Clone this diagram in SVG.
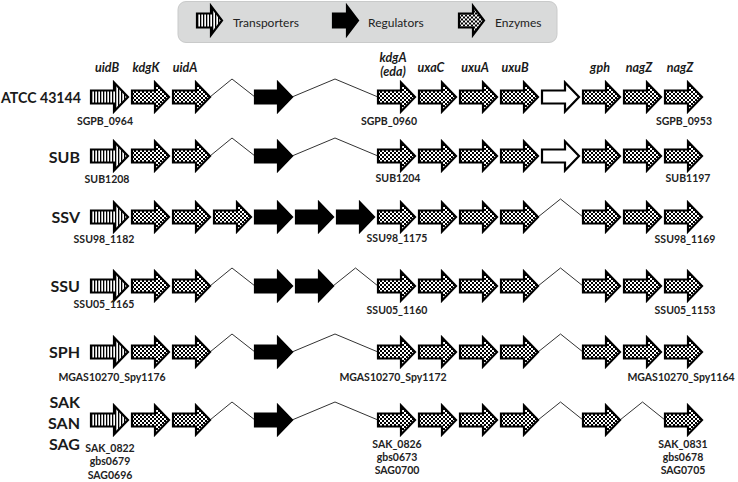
<svg xmlns="http://www.w3.org/2000/svg" xmlns:xlink="http://www.w3.org/1999/xlink" width="738" height="482" viewBox="0 0 738 482">
<style>
.t{fill:url(#stripe);stroke:#000;stroke-width:2.2;stroke-linejoin:miter}
.e{fill:url(#check);stroke:#000;stroke-width:2.2;stroke-linejoin:miter}
.b{fill:#000;stroke:#000;stroke-width:2.2}
.o{fill:#fff;stroke:#000;stroke-width:2.2}
.con path{fill:none;stroke:#333;stroke-width:1}
.strain{font-family:Lato,"Liberation Sans",sans-serif;font-size:16px;font-weight:bold;fill:#1a1a1a;text-anchor:end}
.gene{font-family:Lato,"Liberation Sans",sans-serif;font-size:12.5px;font-style:italic;font-weight:bold;fill:#1a1a1a;text-anchor:middle}
.id{font-family:Lato,"Liberation Sans",sans-serif;font-size:10.5px;font-weight:bold;fill:#222;text-anchor:middle}
.leg{font-family:Lato,"Liberation Sans",sans-serif;font-size:12px;fill:#222}
</style>
<defs>
<pattern id="stripe" width="3" height="4" patternUnits="userSpaceOnUse"><rect width="3" height="4" fill="#fff"/><rect x="0" width="1.3" height="4" fill="#000"/></pattern>
<pattern id="check" width="4" height="4" patternUnits="userSpaceOnUse"><rect width="4" height="4" fill="#fff"/><rect width="2" height="2" fill="#000"/><rect x="2" y="2" width="2" height="2" fill="#000"/></pattern>
<path id="arr" d="M0,-6.5H23V-14.5L37,0L23,14.5V6.5H0Z"/>
<path id="larr" d="M0,-7H14V-14.5L25,0L14,14.5V7H0Z"/>
</defs>

<g id="legend">
<rect x="178" y="1.5" width="379" height="41" rx="8" fill="#d9dada" stroke="#c9caca"/>
<use href="#larr" class="t" x="197" y="20.5"/>
<text class="leg" x="233" y="27">Transporters</text>
<use href="#larr" class="b" x="333" y="20.5"/>
<text class="leg" x="368" y="27">Regulators</text>
<use href="#larr" class="e" x="459" y="20.5"/>
<text class="leg" x="495" y="27">Enzymes</text>
</g>

<g id="gene-names">
<text class="gene" x="107" y="72">uidB</text>
<text class="gene" x="146" y="72">kdgK</text>
<text class="gene" x="185" y="72">uidA</text>
<text class="gene" x="393" y="62">kdgA</text>
<text class="gene" x="393" y="76">(eda)</text>
<text class="gene" x="431" y="72">uxaC</text>
<text class="gene" x="475" y="72">uxuA</text>
<text class="gene" x="515" y="72">uxuB</text>
<text class="gene" x="600" y="72">gph</text>
<text class="gene" x="639" y="72">nagZ</text>
<text class="gene" x="680" y="72">nagZ</text>
</g>

<g id="connectors" class="con">
<path d="M210,97L232,79L255,97M292,97L335,79L378,97"/>
<path d="M210,156L232,138L255,156M292,156L335,138L378,156"/>
<path d="M538,217L560.5,199L583,217"/>
<path d="M210,286L232,268L255,286M333,286L355.5,268L378,286M538,286L560.5,268L583,286"/>
<path d="M210,352L232,334L255,352M292,352L335,334L378,352M538,352L560.5,334L583,352"/>
<path d="M210,420L232,402L255,420M292,420L335,402L378,420M538,420L560.5,402L583,420M620,420L642.5,402L665,420"/>
</g>

<g id="row-atcc">
<text class="strain" x="1" y="103" textLength="80" lengthAdjust="spacingAndGlyphs" style="text-anchor:start">ATCC 43144</text>
<use href="#arr" class="t" x="91" y="97"/>
<use href="#arr" class="e" x="132" y="97"/>
<use href="#arr" class="e" x="173" y="97"/>
<use href="#arr" class="b" x="255" y="97"/>
<use href="#arr" class="e" x="378" y="97"/>
<use href="#arr" class="e" x="419" y="97"/>
<use href="#arr" class="e" x="460" y="97"/>
<use href="#arr" class="e" x="501" y="97"/>
<use href="#arr" class="o" x="542" y="97"/>
<use href="#arr" class="e" x="583" y="97"/>
<use href="#arr" class="e" x="624" y="97"/>
<use href="#arr" class="e" x="665" y="97"/>
<text class="id" x="105" y="125">SGPB_0964</text>
<text class="id" x="389" y="125">SGPB_0960</text>
<text class="id" x="684" y="125">SGPB_0953</text>
</g>

<g id="row-sub">
<text class="strain" x="80" y="163">SUB</text>
<use href="#arr" class="t" x="91" y="156"/>
<use href="#arr" class="e" x="132" y="156"/>
<use href="#arr" class="e" x="173" y="156"/>
<use href="#arr" class="b" x="255" y="156"/>
<use href="#arr" class="e" x="378" y="156"/>
<use href="#arr" class="e" x="419" y="156"/>
<use href="#arr" class="e" x="460" y="156"/>
<use href="#arr" class="e" x="501" y="156"/>
<use href="#arr" class="o" x="542" y="156"/>
<use href="#arr" class="e" x="583" y="156"/>
<use href="#arr" class="e" x="624" y="156"/>
<use href="#arr" class="e" x="665" y="156"/>
<text class="id" x="107" y="183">SUB1208</text>
<text class="id" x="398" y="182">SUB1204</text>
<text class="id" x="688" y="182">SUB1197</text>
</g>

<g id="row-ssv">
<text class="strain" x="80" y="223">SSV</text>
<use href="#arr" class="t" x="91" y="217"/>
<use href="#arr" class="e" x="132" y="217"/>
<use href="#arr" class="e" x="173" y="217"/>
<use href="#arr" class="e" x="214" y="217"/>
<use href="#arr" class="b" x="255" y="217"/>
<use href="#arr" class="b" x="296" y="217"/>
<use href="#arr" class="b" x="337" y="217"/>
<use href="#arr" class="e" x="378" y="217"/>
<use href="#arr" class="e" x="419" y="217"/>
<use href="#arr" class="e" x="460" y="217"/>
<use href="#arr" class="e" x="501" y="217"/>
<use href="#arr" class="e" x="583" y="217"/>
<use href="#arr" class="e" x="624" y="217"/>
<use href="#arr" class="e" x="665" y="217"/>
<text class="id" x="104" y="243">SSU98_1182</text>
<text class="id" x="397" y="242">SSU98_1175</text>
<text class="id" x="685" y="243">SSU98_1169</text>
</g>

<g id="row-ssu">
<text class="strain" x="80" y="292">SSU</text>
<use href="#arr" class="t" x="91" y="286"/>
<use href="#arr" class="e" x="132" y="286"/>
<use href="#arr" class="e" x="173" y="286"/>
<use href="#arr" class="b" x="255" y="286"/>
<use href="#arr" class="b" x="296" y="286"/>
<use href="#arr" class="e" x="378" y="286"/>
<use href="#arr" class="e" x="419" y="286"/>
<use href="#arr" class="e" x="460" y="286"/>
<use href="#arr" class="e" x="501" y="286"/>
<use href="#arr" class="e" x="583" y="286"/>
<use href="#arr" class="e" x="624" y="286"/>
<use href="#arr" class="e" x="665" y="286"/>
<text class="id" x="104" y="308">SSU05_1165</text>
<text class="id" x="397" y="314">SSU05_1160</text>
<text class="id" x="685" y="314">SSU05_1153</text>
</g>

<g id="row-sph">
<text class="strain" x="80" y="358">SPH</text>
<use href="#arr" class="t" x="91" y="352"/>
<use href="#arr" class="e" x="132" y="352"/>
<use href="#arr" class="e" x="173" y="352"/>
<use href="#arr" class="b" x="255" y="352"/>
<use href="#arr" class="e" x="378" y="352"/>
<use href="#arr" class="e" x="419" y="352"/>
<use href="#arr" class="e" x="460" y="352"/>
<use href="#arr" class="e" x="501" y="352"/>
<use href="#arr" class="e" x="583" y="352"/>
<use href="#arr" class="e" x="624" y="352"/>
<use href="#arr" class="e" x="665" y="352"/>
<text class="id" x="112" y="381">MGAS10270_Spy1176</text>
<text class="id" x="393" y="381">MGAS10270_Spy1172</text>
<text class="id" x="681" y="381">MGAS10270_Spy1164</text>
</g>

<g id="row-sak">
<text class="strain" x="80" y="408">SAK</text>
<text class="strain" x="80" y="429">SAN</text>
<text class="strain" x="80" y="450">SAG</text>
<use href="#arr" class="t" x="91" y="420"/>
<use href="#arr" class="e" x="132" y="420"/>
<use href="#arr" class="e" x="173" y="420"/>
<use href="#arr" class="b" x="255" y="420"/>
<use href="#arr" class="e" x="378" y="420"/>
<use href="#arr" class="e" x="419" y="420"/>
<use href="#arr" class="e" x="460" y="420"/>
<use href="#arr" class="e" x="501" y="420"/>
<use href="#arr" class="e" x="583" y="420"/>
<use href="#arr" class="e" x="665" y="420"/>
<text class="id" x="110" y="452">SAK_0822</text>
<text class="id" x="110" y="465">gbs0679</text>
<text class="id" x="110" y="479">SAG0696</text>
<text class="id" x="397" y="448">SAK_0826</text>
<text class="id" x="397" y="461">gbs0673</text>
<text class="id" x="397" y="474">SAG0700</text>
<text class="id" x="683" y="448">SAK_0831</text>
<text class="id" x="683" y="461">gbs0678</text>
<text class="id" x="683" y="474">SAG0705</text>
</g>
</svg>
